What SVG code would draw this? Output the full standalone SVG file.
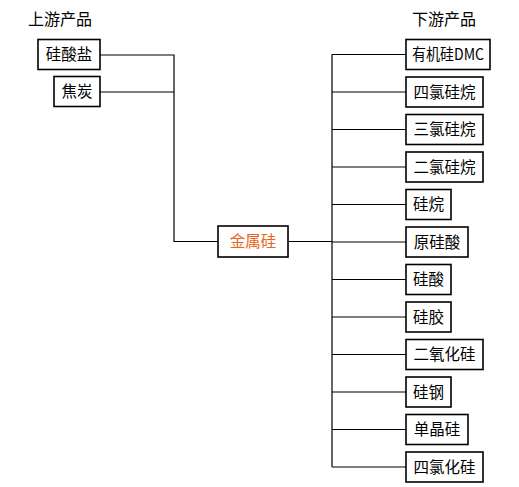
<svg xmlns="http://www.w3.org/2000/svg" width="519" height="487" viewBox="0 0 519 487">
<style>
.box{fill:#fff;stroke:#000;stroke-width:1.6}
.t{font-family:"Noto Sans CJK SC","Noto Sans CJK JP",sans-serif;font-size:15.5px;fill:#000;text-anchor:middle}
.h{font-family:"Noto Sans CJK SC","Noto Sans CJK JP",sans-serif;font-size:16px;fill:#000}
.c{fill:none;stroke:#000;stroke-width:1.2}
</style>
<rect width="519" height="487" fill="#fff"/>
<text class="h" x="28" y="25">上游产品</text>
<text class="h" x="412" y="25">下游产品</text>
<g id="connectors">
<path class="c" d="M100,55H174V241.5H218M100,92H174"/>
<path class="c" d="M288,241.5H332M332,54.5V467"/>
<path class="c" d="M332,54.5H406M332,92H406M332,129.5H406M332,167H406M332,204.5H406M332,242H406M332,279.5H406M332,317H406M332,354.5H406M332,392H406M332,429.5H406M332,467H406"/>
</g>
<g id="n-up1"><rect class="box" x="38" y="39.5" width="62" height="30"/><text class="t" x="69" y="60">硅酸盐</text></g>
<g id="n-up2"><rect class="box" x="54" y="76.5" width="46" height="30"/><text class="t" x="77" y="97">焦炭</text></g>
<g id="n-center"><rect x="219" y="227" width="70" height="31" fill="#e6e6e6"/><rect class="box" x="218" y="226" width="70" height="31"/><text class="t" x="253" y="247" style="fill:#e8651c">金属硅</text></g>
<g id="n-d1"><rect class="box" x="406" y="39.5" width="84" height="30"/><text class="t" x="448" y="60" textLength="72" lengthAdjust="spacingAndGlyphs">有机硅DMC</text></g>
<g id="n-d2"><rect class="box" x="406" y="77" width="77" height="30"/><text class="t" x="444.5" y="97.5">四氯硅烷</text></g>
<g id="n-d3"><rect class="box" x="406" y="114.5" width="77" height="30"/><text class="t" x="444.5" y="135">三氯硅烷</text></g>
<g id="n-d4"><rect class="box" x="406" y="152" width="77" height="30"/><text class="t" x="444.5" y="172.5">二氯硅烷</text></g>
<g id="n-d5"><rect class="box" x="406" y="189.5" width="45" height="30"/><text class="t" x="428.5" y="210">硅烷</text></g>
<g id="n-d6"><rect class="box" x="406" y="227" width="62" height="30"/><text class="t" x="437" y="247.5">原硅酸</text></g>
<g id="n-d7"><rect class="box" x="406" y="264.5" width="45" height="30"/><text class="t" x="428.5" y="285">硅酸</text></g>
<g id="n-d8"><rect class="box" x="406" y="302" width="45" height="30"/><text class="t" x="428.5" y="322.5">硅胶</text></g>
<g id="n-d9"><rect class="box" x="406" y="339.5" width="77" height="30"/><text class="t" x="444.5" y="360">二氧化硅</text></g>
<g id="n-d10"><rect class="box" x="406" y="377" width="45" height="30"/><text class="t" x="428.5" y="397.5">硅钢</text></g>
<g id="n-d11"><rect class="box" x="406" y="414.5" width="62" height="30"/><text class="t" x="437" y="435">单晶硅</text></g>
<g id="n-d12"><rect class="box" x="406" y="452" width="77" height="30"/><text class="t" x="444.5" y="472.5">四氯化硅</text></g>
</svg>
